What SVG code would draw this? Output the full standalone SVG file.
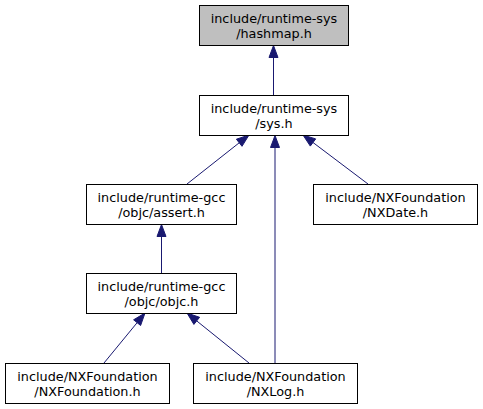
<svg xmlns="http://www.w3.org/2000/svg" width="483" height="409" viewBox="0 0 483 409">
<style>
.box{fill:#ffffff;stroke:#000000;stroke-width:1}
.hl{fill:#bfbfbf}
text{font-family:"DejaVu Sans",sans-serif;font-size:12.8px;text-anchor:middle;fill:#000000}
.edge line{stroke:#191970;stroke-width:1}
.edge polygon{fill:#191970;stroke:#191970;stroke-width:1}
</style>
<rect width="483" height="409" fill="#ffffff"/>
<g id="edges" class="edge">
<line x1="273.5" y1="95" x2="273.5" y2="57.5"/><polygon points="273.5,45.5 269,57.5 278,57.5"/>
<line x1="187" y1="184" x2="239.2" y2="142.8"/><polygon points="249,135 236.4,139.2 242,146.3"/>
<line x1="275" y1="363" x2="275" y2="147.5"/><polygon points="275,135.5 270.5,147.5 279.5,147.5"/>
<line x1="368" y1="184" x2="313" y2="142.5"/><polygon points="303,135 315.7,138.9 310.3,146.1"/>
<line x1="161.5" y1="273" x2="161.5" y2="236.5"/><polygon points="161.5,224.5 157,236.5 166,236.5"/>
<line x1="104" y1="363" x2="137.1" y2="322.7"/><polygon points="145,313 140.6,325.5 133.6,319.8"/>
<line x1="249" y1="363" x2="196.7" y2="320.9"/><polygon points="187,313 199.6,317.3 193.9,324.4"/>
</g>
<g id="hashmap">
<rect class="box hl" x="199.5" y="5.5" width="149" height="40"/>
<text x="274" y="22.5">include/runtime-sys</text>
<text x="274" y="37.5">/hashmap.h</text>
</g>
<g id="sys">
<rect class="box" x="199.5" y="95.5" width="149" height="40"/>
<text x="274" y="112.5">include/runtime-sys</text>
<text x="274" y="127.5">/sys.h</text>
</g>
<g id="assert">
<rect class="box" x="86.5" y="184.5" width="150" height="40"/>
<text x="161.5" y="201.5">include/runtime-gcc</text>
<text x="161.5" y="216.5">/objc/assert.h</text>
</g>
<g id="nxdate">
<rect class="box" x="313.5" y="184.5" width="164" height="40"/>
<text x="395.5" y="201.5">include/NXFoundation</text>
<text x="395.5" y="216.5">/NXDate.h</text>
</g>
<g id="objc">
<rect class="box" x="86.5" y="273.5" width="150" height="40"/>
<text x="161.5" y="290.5">include/runtime-gcc</text>
<text x="161.5" y="305.5">/objc/objc.h</text>
</g>
<g id="nxfoundation">
<rect class="box" x="5.5" y="363.5" width="164" height="40"/>
<text x="87.5" y="380.5">include/NXFoundation</text>
<text x="87.5" y="395.5">/NXFoundation.h</text>
</g>
<g id="nxlog">
<rect class="box" x="193.5" y="363.5" width="164" height="40"/>
<text x="275.5" y="380.5">include/NXFoundation</text>
<text x="275.5" y="395.5">/NXLog.h</text>
</g>
</svg>
